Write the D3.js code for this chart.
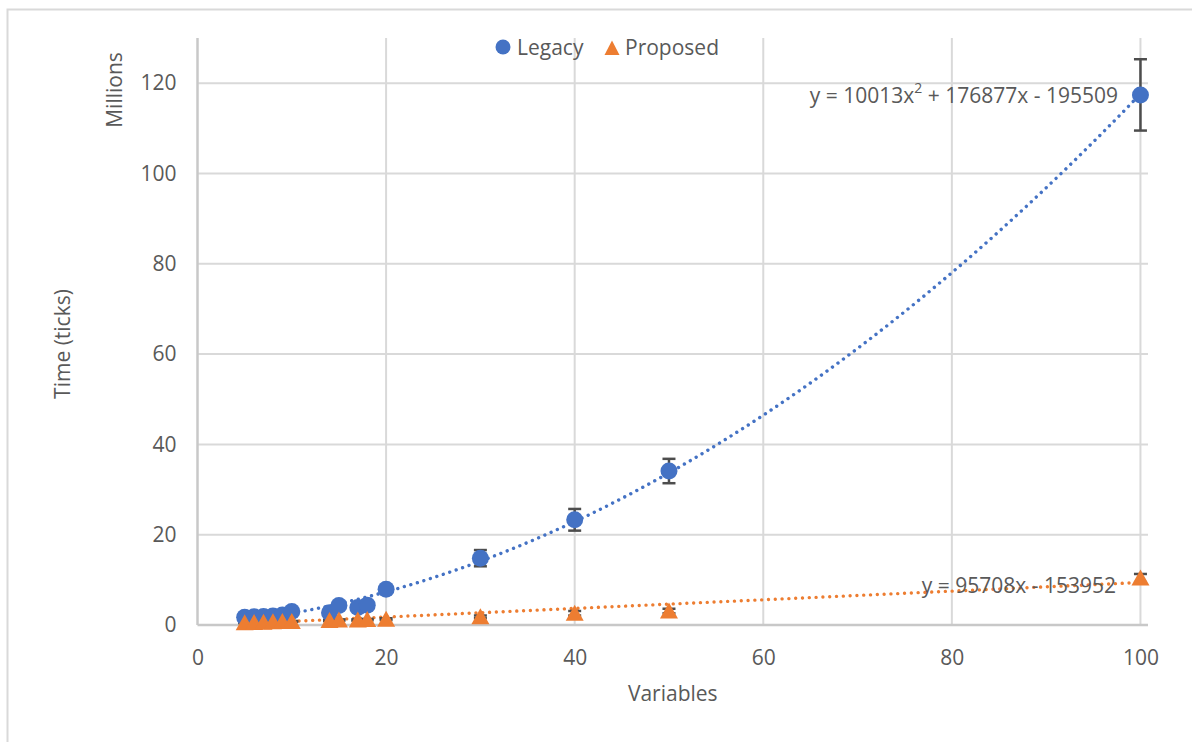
<!DOCTYPE html>
<html>
<head>
<meta charset="utf-8">
<script src="https://cdn.jsdelivr.net/npm/d3@7"></script>
<style>
  html, body { margin: 0; padding: 0; background: #ffffff; }
  svg { display: block; font-family: "Open Sans", "Noto Sans", sans-serif; }
</style>
</head>
<body>
<svg id="chart" width="1192" height="742"></svg>
<script>
// Problem size (number of variables) and measured run time in millions of ticks
const variables     = [5, 6, 7, 8, 9, 10, 14, 15, 17, 18, 20, 30, 40, 50, 100];
const legacyTime    = [1.7, 1.8, 1.9, 2.0, 2.2, 3.0, 2.7, 4.3, 3.9, 4.4, 7.9, 14.8, 23.3, 34.1, 117.4];
const legacyError   = [0.3, 0.3, 0.3, 0.3, 0.3, 0.4, 0.4, 0.5, 0.5, 0.5, 0.7, 1.8, 2.4, 2.7, 7.9];
const proposedTime  = [0.5, 0.55, 0.6, 0.7, 0.75, 0.8, 1.0, 1.1, 1.1, 1.2, 1.3, 1.8, 2.6, 3.1, 10.4];
const proposedError = [0.1, 0.1, 0.1, 0.1, 0.1, 0.1, 0.15, 0.15, 0.15, 0.15, 0.2, 0.3, 0.5, 0.5, 0.9];

// Fitted trend lines (coefficients as printed on the chart)
const legacyFit   = [10013, 176877, -195509];   // a*x^2 + b*x + c
const proposedFit = [95708, -153952];           // m*x + c

const xTicks = [0, 20, 40, 60, 80, 100];
const yTicks = [0, 20, 40, 60, 80, 100, 120];

const seriesNames  = ["Legacy", "Proposed"];
const seriesColors = ["#4472C4", "#ED7D31"];

const svg = d3.select("#chart");
const textColor = "#595959";
const fontSize = 21;

// chart border
svg.append("rect")
  .attr("x", 7.5).attr("y", 9.5)
  .attr("width", 1200).attr("height", 800)
  .attr("fill", "#ffffff")
  .attr("stroke", "#D9D9D9").attr("stroke-width", 2);

const plot = { left: 197.5, right: 1148, top: 38, bottom: 625 };

const x = d3.scaleLinear().domain([0, 100.8]).range([plot.left, plot.right]);
const y = d3.scaleLinear().domain([0, 130]).range([plot.bottom, plot.top]);

// gridlines
const grid = svg.append("g");
grid.selectAll("line.h").data(yTicks.filter(d => d > 0)).join("line")
  .attr("x1", plot.left).attr("x2", plot.right)
  .attr("y1", d => y(d)).attr("y2", d => y(d))
  .attr("stroke", "#D9D9D9").attr("stroke-width", 2);
grid.selectAll("line.v").data(xTicks.filter(d => d > 0)).join("line")
  .attr("x1", d => x(d)).attr("x2", d => x(d))
  .attr("y1", plot.top).attr("y2", plot.bottom)
  .attr("stroke", "#D9D9D9").attr("stroke-width", 2);

// axes
const xAxis = svg.append("g")
  .attr("transform", `translate(0,${plot.bottom})`)
  .call(d3.axisBottom(x).tickValues(xTicks).tickSize(0).tickPadding(22).tickFormat(d3.format("d")));
const yAxis = svg.append("g")
  .attr("transform", `translate(${plot.left},0)`)
  .call(d3.axisLeft(y).tickValues(yTicks).tickSize(0).tickPadding(21).tickFormat(d3.format("d")));
[xAxis, yAxis].forEach(ax => {
  ax.select(".domain").attr("stroke", "#C8C8C8").attr("stroke-width", 2.5);
  ax.selectAll("text").attr("fill", textColor).attr("font-size", fontSize)
    .attr("font-family", "'Open Sans', 'Noto Sans', sans-serif");
});
xAxis.selectAll("text").attr("dy", "0.32em").attr("y", 33);
yAxis.select(".domain").attr("d", `M0,${plot.top}V${plot.bottom}`);
xAxis.select(".domain").attr("d", `M${plot.left},0H${plot.right}`);

// axis titles
svg.append("text")
  .attr("x", (plot.left + plot.right) / 2).attr("y", 693)
  .attr("text-anchor", "middle").attr("dominant-baseline", "central")
  .attr("fill", textColor).attr("font-size", fontSize)
  .text("Variables");
svg.append("text")
  .attr("transform", "translate(62,344) rotate(-90)")
  .attr("text-anchor", "middle").attr("dominant-baseline", "central")
  .attr("fill", textColor).attr("font-size", fontSize)
  .text("Time (ticks)");
svg.append("text")
  .attr("transform", "translate(114,90) rotate(-90)")
  .attr("text-anchor", "middle").attr("dominant-baseline", "central")
  .attr("fill", textColor).attr("font-size", fontSize)
  .text("Millions");

// trend lines
const fitX = d3.range(5, 100.01, 0.5);
const line = d3.line().x(d => x(d[0])).y(d => y(d[1]));
const legacyCurve = fitX.map(v => [v, (legacyFit[0] * v * v + legacyFit[1] * v + legacyFit[2]) / 1e6]);
const proposedCurve = fitX.map(v => [v, (proposedFit[0] * v + proposedFit[1]) / 1e6]);
[[legacyCurve, seriesColors[0]], [proposedCurve, seriesColors[1]]].forEach(([pts, c]) => {
  svg.append("path")
    .attr("d", line(pts))
    .attr("fill", "none")
    .attr("stroke", c)
    .attr("stroke-width", 3.4)
    .attr("stroke-linecap", "round")
    .attr("stroke-dasharray", "0.01 6.8");
});

// error bars
function errorBars(vals, errs) {
  const g = svg.append("g").attr("stroke", "#4D4D4D").attr("stroke-width", 2.5);
  const rows = variables.map((v, i) => ({ v, val: vals[i], e: errs[i] }));
  g.selectAll("line.stem").data(rows).join("line")
    .attr("x1", d => x(d.v)).attr("x2", d => x(d.v))
    .attr("y1", d => y(d.val + d.e)).attr("y2", d => y(d.val - d.e));
  ["+", "-"].forEach(sign => {
    g.selectAll(null).data(rows).join("line")
      .attr("x1", d => x(d.v) - 6.5).attr("x2", d => x(d.v) + 6.5)
      .attr("y1", d => y(sign === "+" ? d.val + d.e : d.val - d.e))
      .attr("y2", d => y(sign === "+" ? d.val + d.e : d.val - d.e));
  });
}
errorBars(legacyTime, legacyError);
errorBars(proposedTime, proposedError);

// markers
const triPath = "M0,-8.5L9,7.5L-9,7.5Z";
svg.append("g").selectAll("circle").data(variables).join("circle")
  .attr("cx", d => x(d))
  .attr("cy", (d, i) => y(legacyTime[i]))
  .attr("r", 8.5)
  .attr("fill", seriesColors[0]);
svg.append("g").selectAll("path").data(variables).join("path")
  .attr("d", triPath)
  .attr("transform", (d, i) => `translate(${x(d)},${y(proposedTime[i])})`)
  .attr("fill", seriesColors[1]);

// trend line equations
const eq1 = svg.append("text")
  .attr("x", 1118).attr("y", y(117.4) + 0.5)
  .attr("text-anchor", "end").attr("dominant-baseline", "central")
  .attr("fill", textColor).attr("font-size", fontSize);
eq1.append("tspan").text("y = 10013x");
eq1.append("tspan").attr("font-size", 14).attr("dy", -8).text("2");
eq1.append("tspan").attr("dy", 8).text(" + 176877x - 195509");

svg.append("text")
  .attr("x", 1116).attr("y", 585)
  .attr("text-anchor", "end").attr("dominant-baseline", "central")
  .attr("fill", textColor).attr("font-size", fontSize)
  .text("y = 95708x - 153952");

// legend
const legend = svg.append("g");
legend.append("circle").attr("cx", 503).attr("cy", 47).attr("r", 7.5).attr("fill", seriesColors[0]);
legend.append("text").attr("x", 517).attr("y", 47).attr("dominant-baseline", "central")
  .attr("fill", textColor).attr("font-size", fontSize).text(seriesNames[0]);
legend.append("path").attr("d", "M0,-7.5L7.5,7L-7.5,7Z")
  .attr("transform", "translate(612,48)").attr("fill", seriesColors[1]);
legend.append("text").attr("x", 625).attr("y", 47).attr("dominant-baseline", "central")
  .attr("fill", textColor).attr("font-size", fontSize).text(seriesNames[1]);
</script>
</body>
</html>
